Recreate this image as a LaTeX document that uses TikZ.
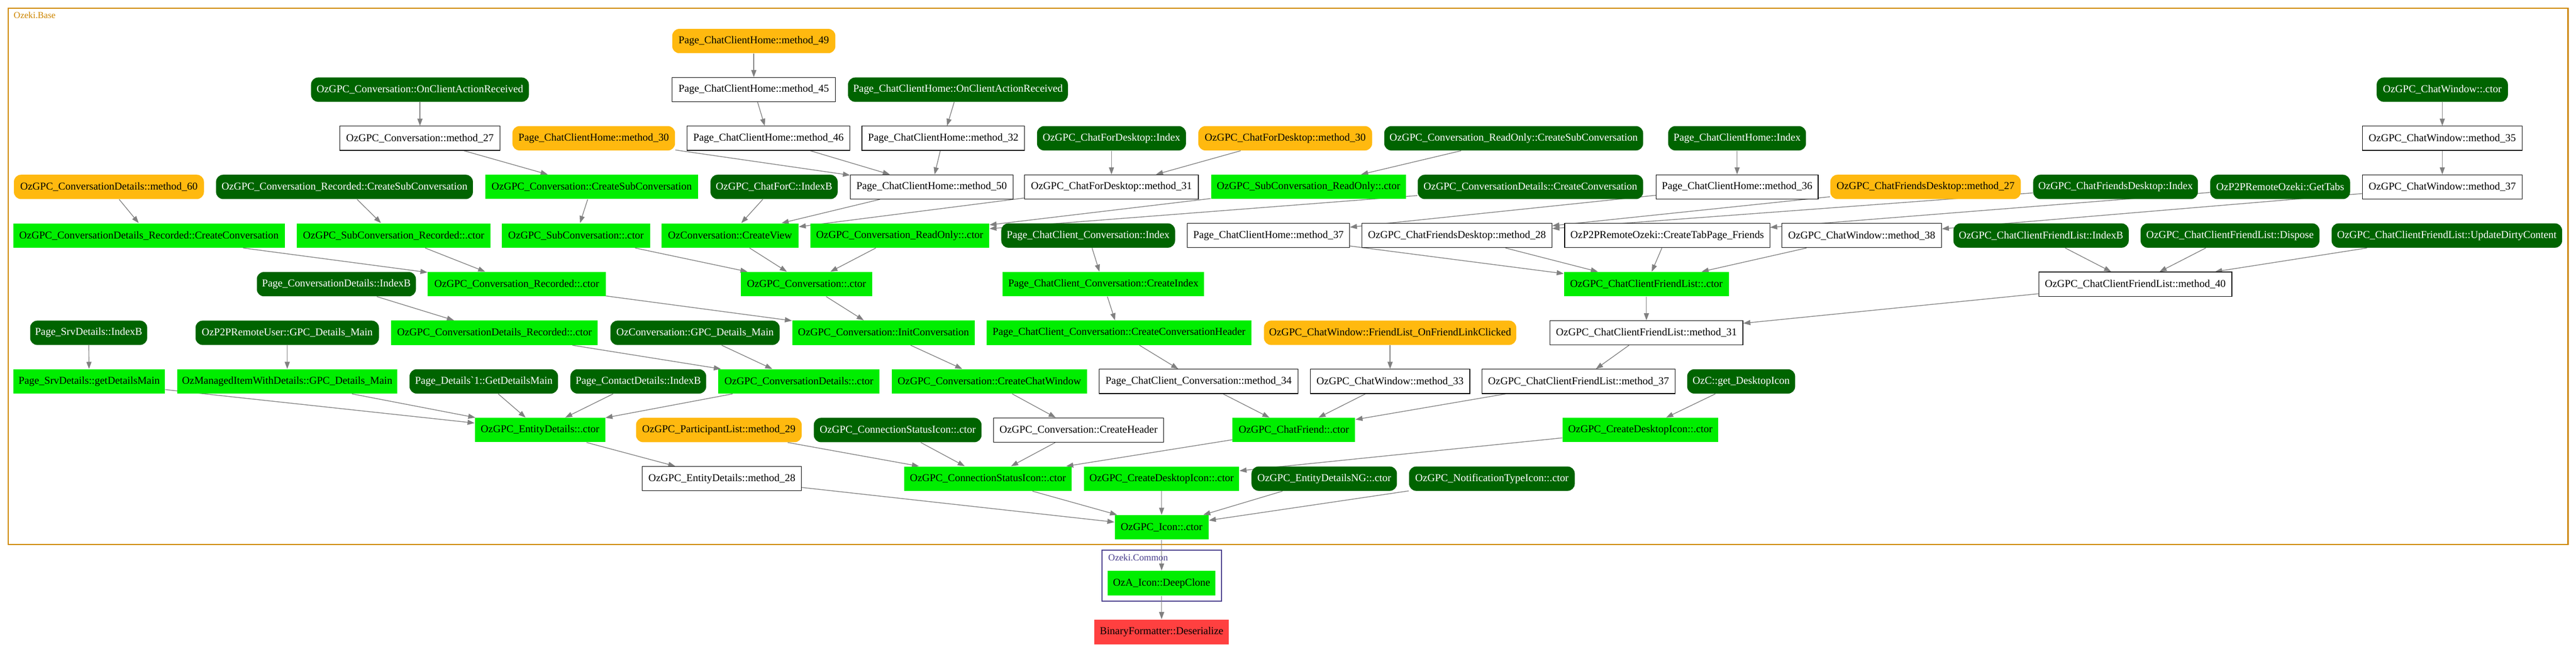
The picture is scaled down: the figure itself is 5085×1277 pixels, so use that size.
\documentclass[tikz,border=0pt]{standalone}
\usepackage{fontspec}
\setmainfont{Liberation Serif}
\usetikzlibrary{arrows.meta,backgrounds}
\definecolor{dkgreen}{RGB}{0,100,0}
\definecolor{ltgreen}{RGB}{0,238,0}
\definecolor{goldbox}{RGB}{255,185,15}
\definecolor{redbox}{RGB}{255,64,64}
\definecolor{edgegray}{RGB}{128,128,128}
\definecolor{baseorange}{RGB}{205,133,0}
\definecolor{commonblue}{RGB}{71,60,139}
\begin{document}
\begin{tikzpicture}[x=1pt,y=-1pt,
  nbox/.style={minimum height=48pt,inner xsep=0pt,inner ysep=0pt,font=\fontsize{20.8}{24}\selectfont,line width=1.2pt},
  dg/.style={nbox,fill=dkgreen,text=white,rounded corners=14pt},
  gn/.style={nbox,fill=ltgreen},
  og/.style={nbox,fill=goldbox,rounded corners=14pt},
  wb/.style={nbox,fill=white,draw=black},
  rd/.style={nbox,fill=redbox},
  call/.style={draw=edgegray,line width=1.4pt,-{Triangle[length=14pt,width=10pt]}},
  clabel/.style={anchor=west,inner sep=0pt}]
\useasboundingbox (0,0) rectangle (5085,1277);

% Row A
\node[og,minimum width=322pt] (m49) at (1488,81) {Page\_ChatClientHome::method\_49};
% Row B
\node[dg,minimum width=430pt] (convOCAR) at (829,177) {OzGPC\_Conversation::OnClientActionReceived};
\node[wb,minimum width=322pt] (m45) at (1488,177) {Page\_ChatClientHome::method\_45};
\node[dg,minimum width=434pt] (homeOCAR) at (1891,177) {Page\_ChatClientHome::OnClientActionReceived};
\node[dg,minimum width=259pt] (cwctor) at (4821,177) {OzGPC\_ChatWindow::.ctor};
% Row C
\node[wb,minimum width=316pt] (cm27) at (829,273) {OzGPC\_Conversation::method\_27};
\node[og,minimum width=321pt] (m30) at (1172,273) {Page\_ChatClientHome::method\_30};
\node[wb,minimum width=321pt] (m46) at (1517,273) {Page\_ChatClientHome::method\_46};
\node[wb,minimum width=321pt] (m32) at (1862,273) {Page\_ChatClientHome::method\_32};
\node[dg,minimum width=294pt] (cfdIndex) at (2194,273) {OzGPC\_ChatForDesktop::Index};
\node[og,minimum width=343pt] (cfdm30) at (2537,273) {OzGPC\_ChatForDesktop::method\_30};
\node[dg,minimum width=511pt] (roCSC) at (2988,273) {OzGPC\_Conversation\_ReadOnly::CreateSubConversation};
\node[dg,minimum width=272pt] (homeIndex) at (3429,273) {Page\_ChatClientHome::Index};
\node[wb,minimum width=316pt] (cwm35) at (4821,273) {OzGPC\_ChatWindow::method\_35};
% Row D
\node[og,minimum width=375pt] (cdm60) at (215,369) {OzGPC\_ConversationDetails::method\_60};
\node[dg,minimum width=507pt] (recCSC) at (680,369) {OzGPC\_Conversation\_Recorded::CreateSubConversation};
\node[gn,minimum width=420pt] (convCSC) at (1168,369) {OzGPC\_Conversation::CreateSubConversation};
\node[dg,minimum width=251pt] (cfcIndexB) at (1528,369) {OzGPC\_ChatForC::IndexB};
\node[wb,minimum width=321pt] (m50) at (1839,369) {Page\_ChatClientHome::method\_50};
\node[wb,minimum width=343pt] (cfdm31) at (2194,369) {OzGPC\_ChatForDesktop::method\_31};
\node[gn,minimum width=385pt] (subROctor) at (2583,369) {OzGPC\_SubConversation\_ReadOnly::.ctor};
\node[dg,minimum width=445pt] (cdCC) at (3021,369) {OzGPC\_ConversationDetails::CreateConversation};
\node[wb,minimum width=320pt] (m36) at (3429,369) {Page\_ChatClientHome::method\_36};
\node[og,minimum width=376pt] (cfdsm27) at (3801,369) {OzGPC\_ChatFriendsDesktop::method\_27};
\node[dg,minimum width=325pt] (cfdsIndex) at (4176,369) {OzGPC\_ChatFriendsDesktop::Index};
\node[dg,minimum width=276pt] (getTabs) at (4501,369) {OzP2PRemoteOzeki::GetTabs};
\node[wb,minimum width=316pt] (cwm37) at (4821,369) {OzGPC\_ChatWindow::method\_37};
% Row E
\node[gn,minimum width=536pt] (cdrCC) at (294,465) {OzGPC\_ConversationDetails\_Recorded::CreateConversation};
\node[gn,minimum width=382pt] (subRecctor) at (777,465) {OzGPC\_SubConversation\_Recorded::.ctor};
\node[gn,minimum width=292pt] (subctor) at (1137,465) {OzGPC\_SubConversation::.ctor};
\node[gn,minimum width=270pt] (createView) at (1441,465) {OzConversation::CreateView};
\node[gn,minimum width=353pt] (roctor) at (1776,465) {OzGPC\_Conversation\_ReadOnly::.ctor};
\node[dg,minimum width=343pt] (cccIndex) at (2148,465) {Page\_ChatClient\_Conversation::Index};
\node[wb,minimum width=320pt] (m37) at (2504,465) {Page\_ChatClientHome::method\_37};
\node[wb,minimum width=375pt] (cfdsm28) at (2876,465) {OzGPC\_ChatFriendsDesktop::method\_28};
\node[wb,minimum width=405pt] (ctpf) at (3291,465) {OzP2PRemoteOzeki::CreateTabPage\_Friends};
\node[wb,minimum width=315pt] (cwm38) at (3675,465) {OzGPC\_ChatWindow::method\_38};
\node[dg,minimum width=346pt] (cfIndexB) at (4029,465) {OzGPC\_ChatClientFriendList::IndexB};
\node[dg,minimum width=353pt] (cfDispose) at (4402,465) {OzGPC\_ChatClientFriendList::Dispose};
\node[dg,minimum width=455pt] (cfUDC) at (4830,465) {OzGPC\_ChatClientFriendList::UpdateDirtyContent};
% Row F
\node[dg,minimum width=314pt] (pcdIndexB) at (664,561) {Page\_ConversationDetails::IndexB};
\node[gn,minimum width=351pt] (recctor) at (1020,561) {OzGPC\_Conversation\_Recorded::.ctor};
\node[gn,minimum width=259pt] (convctor) at (1592,561) {OzGPC\_Conversation::.ctor};
\node[gn,minimum width=397pt] (cccCreateIndex) at (2178,561) {Page\_ChatClient\_Conversation::CreateIndex};
\node[gn,minimum width=325pt] (cfctor) at (3250,561) {OzGPC\_ChatClientFriendList::.ctor};
\node[wb,minimum width=381pt] (cfm40) at (4215,561) {OzGPC\_ChatClientFriendList::method\_40};
% Row G
\node[dg,minimum width=231pt] (srvIndexB) at (175,657) {Page\_SrvDetails::IndexB};
\node[dg,minimum width=362pt] (p2pUser) at (567,657) {OzP2PRemoteUser::GPC\_Details\_Main};
\node[gn,minimum width=408pt] (cdrctor) at (976,657) {OzGPC\_ConversationDetails\_Recorded::.ctor};
\node[dg,minimum width=334pt] (ozcGPC) at (1372,657) {OzConversation::GPC\_Details\_Main};
\node[gn,minimum width=360pt] (initConv) at (1744,657) {OzGPC\_Conversation::InitConversation};
\node[gn,minimum width=522pt] (cccCCH) at (2209,657) {Page\_ChatClient\_Conversation::CreateConversationHeader};
\node[og,minimum width=498pt] (onFLC) at (2744,657) {OzGPC\_ChatWindow::FriendList\_OnFriendLinkClicked};
\node[wb,minimum width=381pt] (cfm31) at (3250,657) {OzGPC\_ChatClientFriendList::method\_31};
% Row H
\node[gn,minimum width=299pt] (srvGDM) at (176,753) {Page\_SrvDetails::getDetailsMain};
\node[gn,minimum width=435pt] (mIWD) at (567,753) {OzManagedItemWithDetails::GPC\_Details\_Main};
\node[dg,minimum width=293pt] (pdGDM) at (955,753) {Page\_Details\textasciigrave 1::GetDetailsMain};
\node[dg,minimum width=268pt] (pcontIndexB) at (1260,753) {Page\_ContactDetails::IndexB};
\node[gn,minimum width=319pt] (cdctor) at (1577,753) {OzGPC\_ConversationDetails::.ctor};
\node[gn,minimum width=385pt] (cCCW) at (1953,753) {OzGPC\_Conversation::CreateChatWindow};
\node[wb,minimum width=393pt] (cccm34) at (2366,753) {Page\_ChatClient\_Conversation::method\_34};
\node[wb,minimum width=315pt] (cwm33) at (2744,753) {OzGPC\_ChatWindow::method\_33};
\node[wb,minimum width=382pt] (cfm37) at (3116,753) {OzGPC\_ChatClientFriendList::method\_37};
\node[dg,minimum width=213pt] (getDI) at (3437,753) {OzC::get\_DesktopIcon};
% Row I
\node[gn,minimum width=257pt] (edctor) at (1066,849) {OzGPC\_EntityDetails::.ctor};
\node[og,minimum width=327pt] (plm29) at (1419,849) {OzGPC\_ParticipantList::method\_29};
\node[dg,minimum width=331pt] (csiDG) at (1772,849) {OzGPC\_ConnectionStatusIcon::.ctor};
\node[wb,minimum width=336pt] (cCH) at (2129,849) {OzGPC\_Conversation::CreateHeader};
\node[gn,minimum width=242pt] (chatFriend) at (2554,849) {OzGPC\_ChatFriend::.ctor};
\node[gn,minimum width=307pt] (cdiI) at (3238,849) {OzGPC\_CreateDesktopIcon::.ctor};
% Row J
\node[wb,minimum width=314pt] (edm28) at (1425,945) {OzGPC\_EntityDetails::method\_28};
\node[gn,minimum width=331pt] (csiG) at (1950,945) {OzGPC\_ConnectionStatusIcon::.ctor};
\node[gn,minimum width=306pt] (cdiJ) at (2293,945) {OzGPC\_CreateDesktopIcon::.ctor};
\node[dg,minimum width=287pt] (edNG) at (2614,945) {OzGPC\_EntityDetailsNG::.ctor};
\node[dg,minimum width=327pt] (ntIcon) at (2945,945) {OzGPC\_NotificationTypeIcon::.ctor};
% Row K
\node[gn,minimum width=185pt] (iconctor) at (2293,1041) {OzGPC\_Icon::.ctor};
% Ozeki.Common
\node[gn,minimum width=213pt,minimum height=49pt] (deepClone) at (2293,1151.5) {OzA\_Icon::DeepClone};
\node[rd,minimum width=266pt,minimum height=49pt] (binary) at (2293,1247.5) {BinaryFormatter::Deserialize};

\node[clabel,text=baseorange,font=\fontsize{18}{20}\selectfont] (baseLabel) at (27,30) {Ozeki.Base};
\node[clabel,text=commonblue,font=\fontsize{18.5}{20}\selectfont] (commonLabel) at (2187.5,1101) {Ozeki.Common};

\begin{pgfonlayer}{background}
\draw[baseorange,line width=2.4pt] (16,16) rectangle (5069,1075);
\draw[commonblue,line width=2.2pt] (2175,1086) rectangle (2411,1187);

\draw[call] (m49) -- (m45);
\draw[call] (m45) -- (m46);
\draw[call] (convOCAR) -- (cm27);
\draw[call] (cm27) -- (convCSC);
\draw[call] (m30) -- (m50);
\draw[call] (m46) -- (m50);
\draw[call] (homeOCAR) -- (m32);
\draw[call] (m32) -- (m50);
\draw[call] (cfdIndex) -- (cfdm31);
\draw[call] (cfdm30) -- (cfdm31);
\draw[call] (roCSC) -- (subROctor);
\draw[call] (homeIndex) -- (m36);
\draw[call] (cwctor) -- (cwm35);
\draw[call] (cwm35) -- (cwm37);

\draw[call] (cdm60) -- (cdrCC);
\draw[call] (recCSC) -- (subRecctor);
\draw[call] (convCSC) -- (subctor);
\draw[call] (cfcIndexB) -- (createView);
\draw[call] (m50) -- (createView);
\draw[call] (cfdm31) -- (createView);
\draw[call] (subROctor) -- (roctor);
\draw[call] (cdCC) -- (roctor);
\draw[call] (cccIndex) -- (cccCreateIndex);
\draw[call] (m36) -- (m37);
\draw[call] (cfdsm27) -- (cfdsm28);
\draw[call] (cfdsIndex) -- (cfdsm28);
\draw[call] (getTabs) -- (ctpf);
\draw[call] (cwm37) -- (cwm38);

\draw[call] (cdrCC) -- (recctor);
\draw[call] (subRecctor) -- (recctor);
\draw[call] (subctor) -- (convctor);
\draw[call] (createView) -- (convctor);
\draw[call] (roctor) -- (convctor);
\draw[call] (m37) -- (cfctor);
\draw[call] (cfdsm28) -- (cfctor);
\draw[call] (ctpf) -- (cfctor);
\draw[call] (cwm38) -- (cfctor);
\draw[call] (cfIndexB) -- (cfm40);
\draw[call] (cfDispose) -- (cfm40);
\draw[call] (cfUDC) -- (cfm40);

\draw[call] (pcdIndexB) -- (cdrctor);
\draw[call] (recctor) -- (initConv);
\draw[call] (convctor) -- (initConv);
\draw[call] (cccCreateIndex) -- (cccCCH);
\draw[call] (cfctor) -- (cfm31);
\draw[call] (cfm40) -- (cfm31);

\draw[call] (srvIndexB) -- (srvGDM);
\draw[call] (p2pUser) -- (mIWD);
\draw[call] (cdrctor) -- (cdctor);
\draw[call] (ozcGPC) -- (cdctor);
\draw[call] (initConv) -- (cCCW);
\draw[call] (cccCCH) -- (cccm34);
\draw[call] (onFLC) -- (cwm33);
\draw[call] (cfm31) -- (cfm37);

\draw[call] (srvGDM) -- (edctor);
\draw[call] (mIWD) -- (edctor);
\draw[call] (pdGDM) -- (edctor);
\draw[call] (pcontIndexB) -- (edctor);
\draw[call] (cdctor) -- (edctor);
\draw[call] (cCCW) -- (cCH);
\draw[call] (cccm34) -- (chatFriend);
\draw[call] (cwm33) -- (chatFriend);
\draw[call] (cfm37) -- (chatFriend);
\draw[call] (getDI) -- (cdiI);

\draw[call] (edctor) -- (edm28);
\draw[call] (plm29) -- (csiG);
\draw[call] (csiDG) -- (csiG);
\draw[call] (cCH) -- (csiG);
\draw[call] (chatFriend) -- (csiG);
\draw[call] (cdiI) -- (cdiJ);

\draw[call] (edm28) -- (iconctor);
\draw[call] (csiG) -- (iconctor);
\draw[call] (cdiJ) -- (iconctor);
\draw[call] (edNG) -- (iconctor);
\draw[call] (ntIcon) -- (iconctor);

\draw[call] (iconctor) -- (deepClone);
\draw[call] (deepClone) -- (binary);
\end{pgfonlayer}
\end{tikzpicture}
\end{document}
